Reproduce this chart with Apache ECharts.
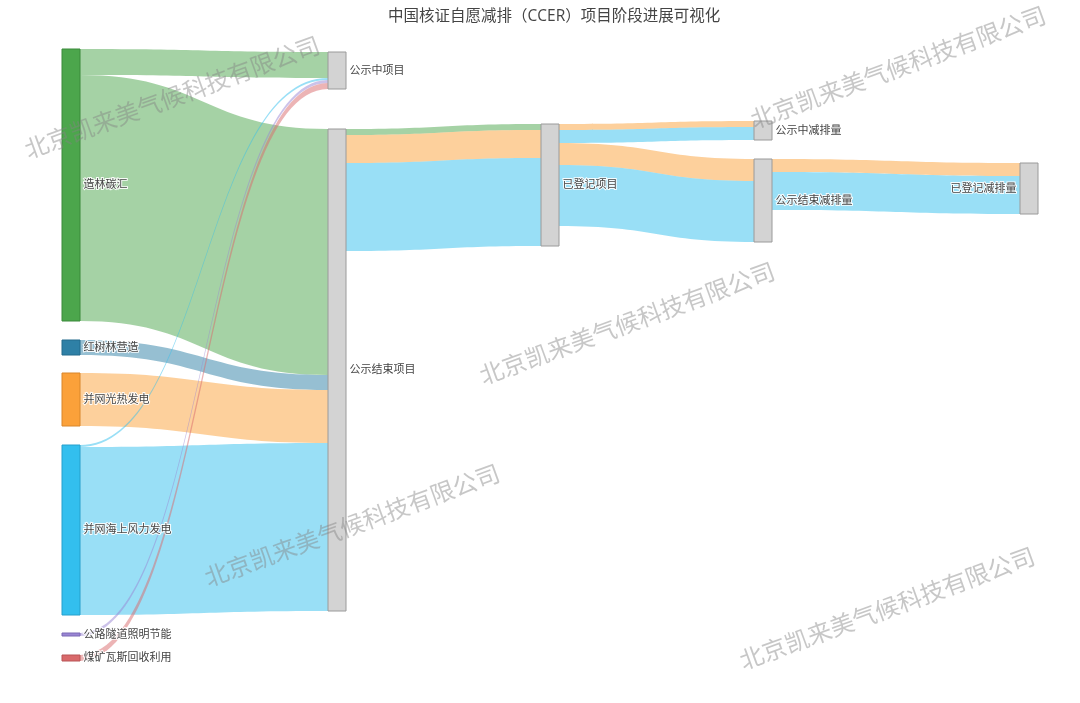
<!DOCTYPE html>
<html>
<head>
<meta charset="utf-8">
<title>CCER项目阶段进展</title>
<script src="https://cdn.jsdelivr.net/npm/echarts@6/dist/echarts.min.js"></script>
<style>
  html, body { margin: 0; padding: 0; background: #fff; }
  #chart { width: 1080px; height: 703px; }
</style>
</head>
<body>
<div id="chart"></div>
<script>
// 节点
const nodeNames = ['造林碳汇', '红树林营造', '并网光热发电', '并网海上风力发电', '公路隧道照明节能', '煤矿瓦斯回收利用',
  '公示中项目', '公示结束项目', '已登记项目', '公示中减排量', '公示结束减排量', '已登记减排量']

// 流向: 来源 / 去向 / 数值 / 所属项目类型
const linkSources = ['造林碳汇', '造林碳汇', '红树林营造', '并网光热发电', '并网海上风力发电', '并网海上风力发电', '公路隧道照明节能', '煤矿瓦斯回收利用',
  '公示结束项目', '公示结束项目', '公示结束项目',
  '已登记项目', '已登记项目', '已登记项目', '已登记项目',
  '公示结束减排量', '公示结束减排量']
const linkTargets = ['公示中项目', '公示结束项目', '公示结束项目', '公示结束项目', '公示中项目', '公示结束项目', '公示中项目', '公示中项目',
  '已登记项目', '已登记项目', '已登记项目',
  '公示中减排量', '公示中减排量', '公示结束减排量', '公示结束减排量',
  '已登记减排量', '已登记减排量']
const linkValues = [26, 246, 15, 53, 2, 168, 3, 6,
  6, 28, 88,
  6, 13, 22, 61,
  13, 38]
const linkTypes = ['造林碳汇', '造林碳汇', '红树林营造', '并网光热发电', '并网海上风力发电', '并网海上风力发电', '公路隧道照明节能', '煤矿瓦斯回收利用',
  '造林碳汇', '并网光热发电', '并网海上风力发电',
  '并网光热发电', '并网海上风力发电', '并网光热发电', '并网海上风力发电',
  '并网光热发电', '并网海上风力发电']

// 样式
const typeColors = {
  '造林碳汇': ['#4ca64c', '#3b8a3b'],
  '红树林营造': ['#2e80a6', '#236a8c'],
  '并网光热发电': ['#fba13a', '#d9862a'],
  '并网海上风力发电': ['#33bfee', '#27a0cc'],
  '公路隧道照明节能': ['#9a86d4', '#7a68b4'],
  '煤矿瓦斯回收利用': ['#d9696b', '#b85456'],
}
// 布局框与节点位置 (像素)
const box = { left: 62, top: 49, width: 976, height: 612 }
const nodePos = {
  '造林碳汇': [62, 49], '红树林营造': [62, 340], '并网光热发电': [62, 373], '并网海上风力发电': [62, 445],
  '公路隧道照明节能': [62, 633], '煤矿瓦斯回收利用': [62, 655],
  '公示中项目': [328, 52], '公示结束项目': [328, 129], '已登记项目': [541, 124],
  '公示中减排量': [754, 121], '公示结束减排量': [754, 159], '已登记减排量': [1020, 163],
}

const nodes = nodeNames.map(name => {
  const c = typeColors[name]
  return {
    name,
    localX: (nodePos[name][0] - box.left) / box.width,
    localY: (nodePos[name][1] - box.top) / box.height,
    itemStyle: c
      ? { color: c[0], borderColor: c[1], borderWidth: 1 }
      : { color: '#d3d3d3', borderColor: '#9a9a9a', borderWidth: 1 },
    label: name === '已登记减排量' ? { position: 'left' } : undefined,
  }
})

const links = linkValues.map((v, i) => ({
  source: linkSources[i],
  target: linkTargets[i],
  value: v,
  lineStyle: { color: typeColors[linkTypes[i]][0], opacity: 0.5 },
}))

const watermark = '北京凯来美气候科技有限公司'
const marks = [[172, 97], [898, 67], [627, 323], [352, 525], [887, 608]]

const options = {
  backgroundColor: '#fff',
  animation: false,
  title: {
    text: '中国核证自愿减排（CCER）项目阶段进展可视化',
    left: 383,
    top: 4,
    textStyle: {
      color: '#444',
      fontSize: 15.5,
      fontWeight: 'normal',
      fontFamily: '"Open Sans", "Noto Sans CJK SC", sans-serif',
    },
  },
  series: [
    {
      type: 'sankey',
      left: box.left,
      top: box.top,
      width: box.width,
      height: box.height,
      nodeWidth: 18,
      nodeGap: 18.6,
      nodeAlign: 'left',
      layoutIterations: 0,
      draggable: false,
      emphasis: { disabled: true },
      label: {
        position: 'right',
        distance: 3,
        color: '#444',
        fontSize: 11,
        fontFamily: '"Open Sans", "Noto Sans CJK SC", sans-serif',
        textBorderColor: 'rgba(255,255,255,0.9)',
        textBorderWidth: 2,
      },
      lineStyle: { curveness: 0.5 },
      data: nodes,
      links: links,
    },
  ],
  graphic: marks.map(p => ({
    type: 'text',
    x: p[0],
    y: p[1],
    rotation: 20 * Math.PI / 180,
    z: 100,
    silent: true,
    style: {
      text: watermark,
      fill: 'rgba(130,130,130,0.45)',
      fontSize: 24,
      fontFamily: '"Noto Sans CJK SC", sans-serif',
      align: 'center',
      verticalAlign: 'middle',
    },
  })),
}

const chart = echarts.init(document.getElementById('chart'))
chart.setOption(options)
window.addEventListener('resize', function () {
  chart && chart.resize()
})
</script>
</body>
</html>
